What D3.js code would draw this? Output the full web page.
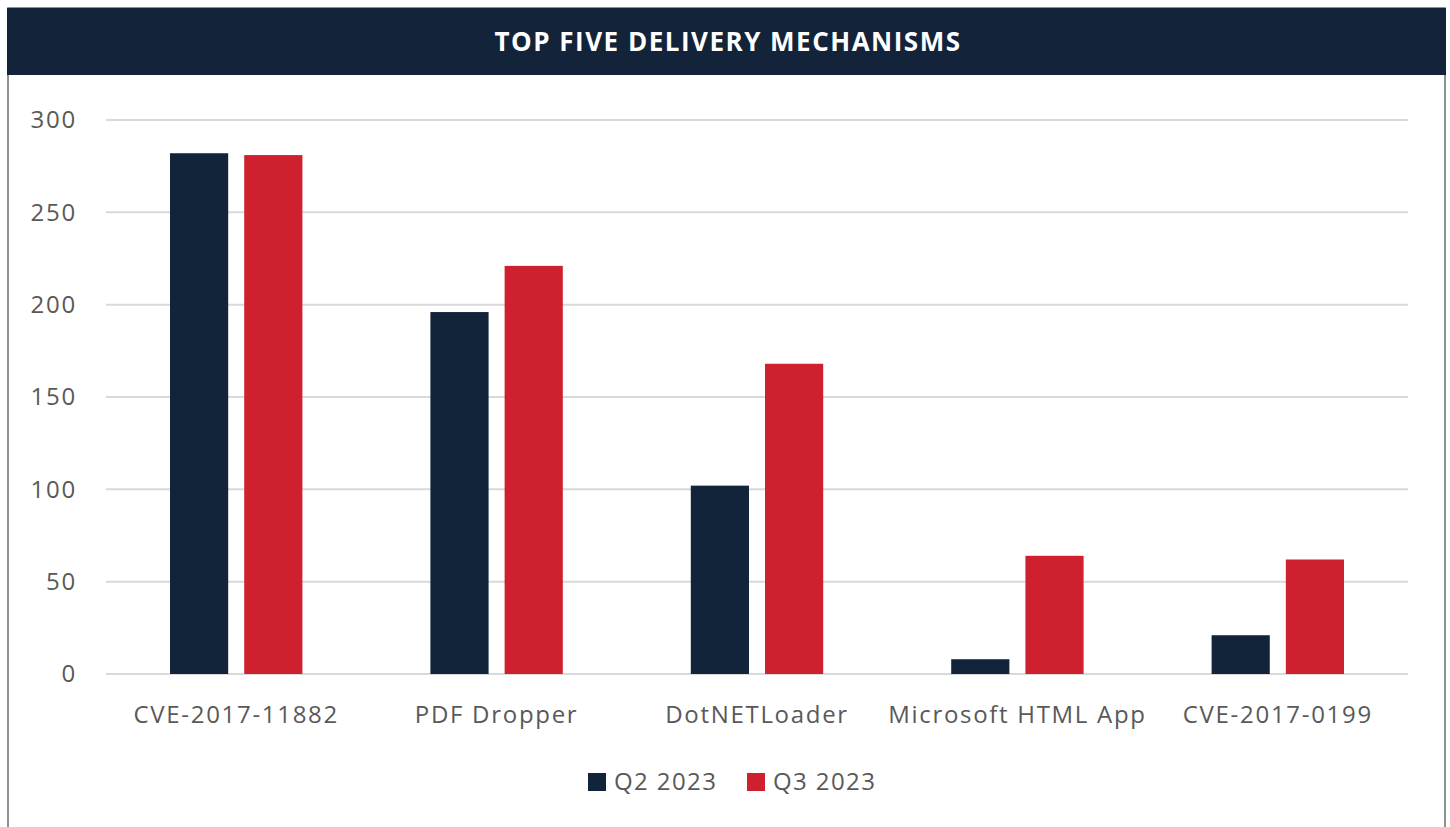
<!DOCTYPE html>
<html>
<head>
<meta charset="utf-8">
<script src="https://cdn.jsdelivr.net/npm/d3@7"></script>
<style>
  body { margin: 0; background: #fff; }
  text { font-family: "Open Sans", "Noto Sans", sans-serif; }
</style>
</head>
<body>
<div id="chart"></div>
<script>
// chart data
var categories = ["CVE-2017-11882", "PDF Dropper", "DotNETLoader", "Microsoft HTML App", "CVE-2017-0199"];
var seriesNames = ["Q2 2023", "Q3 2023"];
var q2Values = [282, 196, 102, 8, 21];
var q3Values = [281, 221, 168, 64, 62];
var yTicks = [0, 50, 100, 150, 200, 250, 300];
var colors = ["#12243a", "#cf202f"];

var width = 1450, height = 827;

var svg = d3.select("#chart")
  .append("svg")
  .attr("width", width)
  .attr("height", height);

//frame + title bar
svg.append("rect")
  .attr("x", 8).attr("y", 8)
  .attr("width", 1437).attr("height", 830)
  .attr("fill", "#fff")
  .attr("stroke", "#6b6b6b")
  .attr("stroke-width", 1.5);

svg.append("rect")
  .attr("x", 7).attr("y", 8)
  .attr("width", 1439).attr("height", 67)
  .attr("fill", "#12233a");

svg.append("text")
  .attr("x", 728).attr("y", 51)
  .attr("text-anchor", "middle")
  .attr("fill", "#fff")
  .attr("font-size", 26)
  .attr("font-weight", "bold")
  .attr("letter-spacing", "1.5px")
  .text("TOP FIVE DELIVERY MECHANISMS");

//scales
var y = d3.scaleLinear().domain([0, 300]).range([674, 120]);
var x0 = d3.scaleBand().domain(categories).range([106, 1408]);
var x1 = d3.scaleBand().domain(seriesNames)
  .range([64, x0.bandwidth() - 64])
  .paddingInner(0.216);

//gridlines
svg.append("g")
  .selectAll("line")
  .data(yTicks)
  .enter().append("line")
    .attr("x1", 106).attr("x2", 1408)
    .attr("y1", function(d) { return y(d); })
    .attr("y2", function(d) { return y(d); })
    .attr("stroke", "#d9d9d9")
    .attr("stroke-width", 2);

//y axis labels
var yAxis = svg.append("g")
  .attr("transform", "translate(77,0)")
  .call(d3.axisLeft(y).tickValues(yTicks).tickSize(0).tickPadding(0));
yAxis.select(".domain").remove();
yAxis.selectAll("text")
  .attr("font-size", 24)
  .attr("fill", "#595959")
  .attr("letter-spacing", "1.8px")
  .attr("font-family", "Open Sans");

//bars
var rows = categories.map(function(c, i) {
  return { cat: c, vals: [q2Values[i], q3Values[i]] };
});

var groups = svg.append("g")
  .selectAll("g")
  .data(rows)
  .enter().append("g")
    .attr("transform", function(d) { return "translate(" + x0(d.cat) + ",0)"; });

groups.selectAll("rect")
  .data(function(d) { return d.vals.map(function(v, j) { return { s: seriesNames[j], v: v, j: j }; }); })
  .enter().append("rect")
    .attr("x", function(d) { return x1(d.s); })
    .attr("width", x1.bandwidth())
    .attr("y", function(d) { return y(d.v); })
    .attr("height", function(d) { return y(0) - y(d.v); })
    .attr("fill", function(d) { return colors[d.j]; });

//x axis labels
var xAxis = svg.append("g")
  .attr("transform", "translate(0,706)")
  .call(d3.axisBottom(x0).tickSize(0).tickPadding(0));
xAxis.select(".domain").remove();
xAxis.selectAll("text")
  .attr("font-size", 24)
  .attr("fill", "#595959")
  .attr("dy", "0.71em")
  .attr("letter-spacing", "1.7px")
  .attr("font-family", "Open Sans");

//legend
var legendX = [588, 747];
var legend = svg.append("g")
  .selectAll("g")
  .data(seriesNames)
  .enter().append("g")
    .attr("transform", function(d, i) { return "translate(" + legendX[i] + ",773)"; });

legend.append("rect")
  .attr("width", 18).attr("height", 18)
  .attr("fill", function(d, i) { return colors[i]; });

legend.append("text")
  .attr("x", 26).attr("y", 17)
  .attr("font-size", 24)
  .attr("fill", "#595959")
  .attr("letter-spacing", "1.4px")
  .text(function(d) { return d; });
</script>
</body>
</html>
